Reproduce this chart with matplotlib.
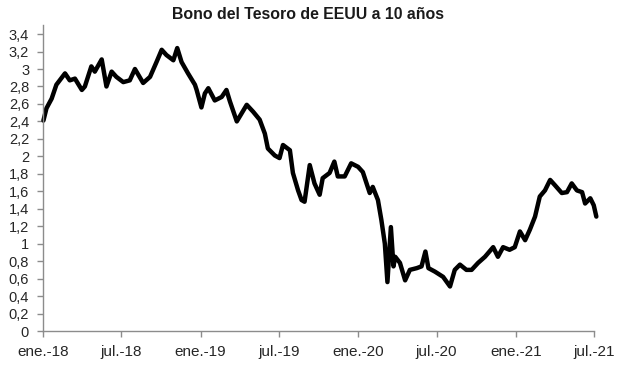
import numpy as np
import pandas as pd
import matplotlib
matplotlib.use("Agg")
import matplotlib.pyplot as plt

# 10 year US Treasury yield (%)
dates = [
    "2018-01-02", "2018-01-09", "2018-01-21", "2018-02-01", "2018-02-21",
    "2018-03-04", "2018-03-16", "2018-04-01", "2018-04-08", "2018-04-23",
    "2018-05-01", "2018-05-17", "2018-05-28", "2018-06-09", "2018-06-20",
    "2018-07-06", "2018-07-21", "2018-08-02", "2018-08-21", "2018-09-06",
    "2018-09-21", "2018-10-03", "2018-10-14", "2018-10-30", "2018-11-08",
    "2018-11-18", "2018-12-03", "2018-12-19", "2018-12-23", "2019-01-03",
    "2019-01-11", "2019-01-19", "2019-02-03", "2019-02-19", "2019-03-02",
    "2019-03-10", "2019-03-26", "2019-04-18", "2019-05-03", "2019-05-18",
    "2019-05-30", "2019-06-06", "2019-06-22", "2019-07-03", "2019-07-11",
    "2019-07-27", "2019-08-03", "2019-08-15", "2019-08-23", "2019-08-30",
    "2019-09-11", "2019-09-22", "2019-10-04", "2019-10-11", "2019-10-27",
    "2019-11-07", "2019-11-15", "2019-12-01", "2019-12-16", "2020-01-01",
    "2020-01-12", "2020-01-28", "2020-02-04", "2020-02-16", "2020-02-24",
    "2020-03-03", "2020-03-09", "2020-03-17", "2020-03-23", "2020-03-27",
    "2020-04-07", "2020-04-19", "2020-04-30", "2020-05-16", "2020-05-27",
    "2020-06-05", "2020-06-12", "2020-06-27", "2020-07-16", "2020-08-01",
    "2020-08-12", "2020-08-24", "2020-09-08", "2020-09-20", "2020-10-05",
    "2020-10-21", "2020-11-09", "2020-11-20", "2020-12-02", "2020-12-17",
    "2020-12-29", "2021-01-10", "2021-01-22", "2021-02-02", "2021-02-14",
    "2021-02-25", "2021-03-09", "2021-03-21", "2021-04-01", "2021-04-17",
    "2021-04-29", "2021-05-10", "2021-05-22", "2021-06-03", "2021-06-10",
    "2021-06-22", "2021-06-30", "2021-07-06",
]
yields = [
    2.41, 2.55, 2.66, 2.82, 2.95,
    2.87, 2.89, 2.76, 2.80, 3.03,
    2.97, 3.11, 2.80, 2.97, 2.91,
    2.85, 2.87, 3.00, 2.84, 2.91,
    3.08, 3.22, 3.16, 3.10, 3.24,
    3.08, 2.95, 2.82, 2.76, 2.56,
    2.72, 2.78, 2.64, 2.68, 2.76,
    2.63, 2.40, 2.59, 2.51, 2.42,
    2.26, 2.09, 2.01, 1.98, 2.13,
    2.07, 1.81, 1.61, 1.50, 1.48,
    1.90, 1.69, 1.56, 1.75, 1.81,
    1.94, 1.77, 1.77, 1.92, 1.88,
    1.82, 1.58, 1.65, 1.50, 1.27,
    1.00, 0.56, 1.19, 0.74, 0.85,
    0.78, 0.58, 0.70, 0.72, 0.74,
    0.91, 0.72, 0.68, 0.62, 0.51,
    0.70, 0.76, 0.70, 0.70, 0.78,
    0.85, 0.96, 0.85, 0.96, 0.93,
    0.96, 1.14, 1.04, 1.16, 1.31,
    1.54, 1.61, 1.73, 1.67, 1.58,
    1.59, 1.69, 1.61, 1.59, 1.46,
    1.52, 1.44, 1.31,
]

tick_dates = ["2018-01-01", "2018-07-01", "2019-01-01", "2019-07-01",
              "2020-01-01", "2020-07-01", "2021-01-01", "2021-07-01"]
tick_labels = ["ene.-18", "jul.-18", "ene.-19", "jul.-19",
               "ene.-20", "jul.-20", "ene.-21", "jul.-21"]
y_ticks = np.round(np.arange(0, 3.41, 0.2), 1)

plt.rcParams['font.family'] = ['Liberation Sans', 'DejaVu Sans']

x = pd.to_datetime(dates)
xt = pd.to_datetime(tick_dates)

fig = plt.figure(figsize=(6.17, 3.84), dpi=100)
ax = fig.add_axes([0.0697, 0.138, 0.963 - 0.0697, 0.796])

ax.plot(x, yields, color='black', lw=3.2, solid_joinstyle='round',
        solid_capstyle='round', clip_on=False)

ax.set_xlim(xt[0], xt[-1])
ax.set_ylim(0, 3.5)
ax.set_xticks(xt)
ax.set_xticklabels(tick_labels)
ax.set_yticks(y_ticks)
ax.set_yticklabels(['{:g}'.format(v).replace('.', ',') for v in y_ticks])

for side in ['top', 'right']:
    ax.spines[side].set_visible(False)
for side in ['left', 'bottom']:
    ax.spines[side].set_color('#8c8c8c')
    ax.spines[side].set_linewidth(1.0)

ax.tick_params(axis='both', direction='out', length=4, width=1.0,
               color='#8c8c8c', labelcolor='#262626')
ax.tick_params(axis='x', pad=6, labelsize=11)
ax.tick_params(axis='y', pad=6, labelsize=10.5)

fig.text(0.5, 0.963, 'Bono del Tesoro de EEUU a 10 años', ha='center',
         va='center', fontsize=11.4, fontweight='bold', color='#1a1a1a')

fig.savefig('out.png', dpi=100)
